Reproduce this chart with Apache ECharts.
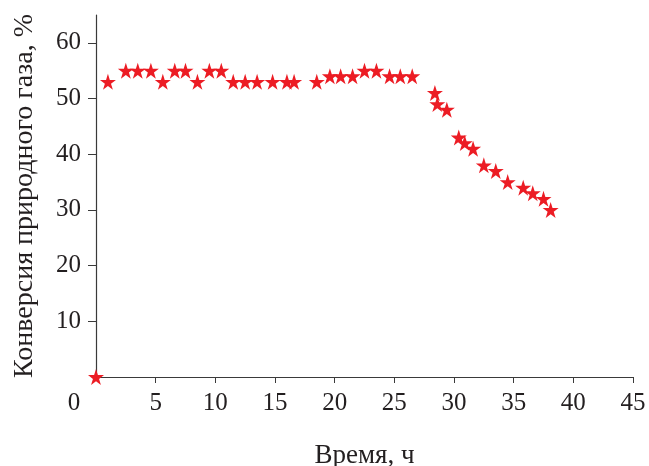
<!DOCTYPE html>
<html><head><meta charset="utf-8">
<script src="https://cdn.jsdelivr.net/npm/echarts@6/dist/echarts.min.js"></script>
<style>html,body{margin:0;padding:0;background:#fff}#c{width:649px;height:466px}</style>
</head><body><div id="c"></div>
<script>
const timeH = [0, 1, 2.5, 3.5, 4.6, 5.6, 6.6, 7.5, 8.5, 9.5, 10.5, 11.5, 12.5, 13.5, 14.8, 16.0, 16.6, 18.5, 19.6, 20.5, 21.5, 22.5, 23.5, 24.6, 25.5, 26.5, 28.4, 28.6, 29.4, 30.4, 30.9, 31.6, 32.5, 33.5, 34.5, 35.8, 36.6, 37.5, 38.1];
const conversion = [0, 53, 55, 55, 55, 53, 55, 55, 53, 55, 55, 53, 53, 53, 53, 53, 53, 53, 54, 54, 54, 55, 55, 54, 54, 54, 51, 49, 48, 43, 42, 41, 38, 37, 35, 34, 33, 32, 30];
const xTicks = [0, 5, 10, 15, 20, 25, 30, 35, 40, 45];
const yTicks = [10, 20, 30, 40, 50, 60];
const xName = 'Время, ч';
const yName = 'Конверсия природного газа, %';

const font = '"Liberation Serif", "DejaVu Serif", serif';
const axisColor = '#3a3a3a';
const textColor = '#231f20';
const star = 'path://M50,0 L61.2,34.5 L97.6,34.5 L68.2,55.9 L79.4,90.5 L50,69.1 L20.6,90.5 L31.8,55.9 L2.4,34.5 L38.8,34.5 Z';

const chart = echarts.init(document.getElementById('c'), null, {renderer: 'canvas'});
chart.setOption({
  animation: false,
  grid: {left: 96, right: 16, top: 15, bottom: 89, containLabel: false, outerBoundsMode: 'none'},
  xAxis: {
    type: 'value', min: 0, max: 45, interval: 5,
    name: xName, nameLocation: 'middle', nameGap: 65,
    nameTextStyle: {fontFamily: font, fontSize: 27, color: textColor},
    axisLine: {show: true, onZero: false, lineStyle: {color: axisColor, width: 1.2}},
    axisTick: {show: true, length: 6, customValues: xTicks.slice(1), lineStyle: {color: axisColor}},
    axisLabel: {
      customValues: xTicks, margin: 14, fontFamily: font, fontSize: 25, color: textColor,
      formatter: v => v === 0 ? '{z|0}' : String(v),
      rich: {z: {fontFamily: font, fontSize: 25, color: textColor, padding: [0, 44, 0, 0]}}
    },
    splitLine: {show: false}
  },
  yAxis: {
    type: 'value', min: 0, max: 65, interval: 10,
    name: yName, nameLocation: 'middle', nameGap: 57,
    nameTextStyle: {fontFamily: font, fontSize: 28, color: textColor},
    axisLine: {show: true, onZero: false, lineStyle: {color: axisColor, width: 1.2}},
    axisTick: {show: true, length: 8, customValues: yTicks, lineStyle: {color: axisColor}},
    axisLabel: {customValues: yTicks, margin: 15, fontFamily: font, fontSize: 25, color: textColor},
    splitLine: {show: false}
  },
  series: [{
    type: 'scatter',
    data: timeH.map((t, i) => [t, conversion[i]]),
    symbol: star, symbolSize: 16,
    itemStyle: {color: '#ec1c24', opacity: 1},
    clip: false
  }]
});
</script></body></html>
